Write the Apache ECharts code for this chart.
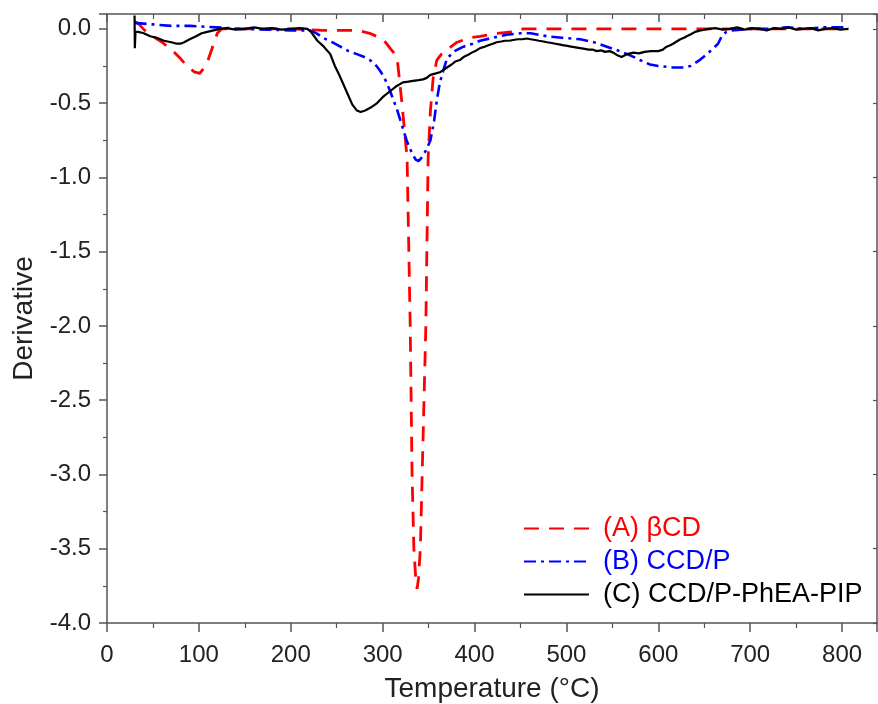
<!DOCTYPE html>
<html>
<head>
<meta charset="utf-8">
<script src="https://cdn.jsdelivr.net/npm/echarts@6/dist/echarts.min.js"></script>
<style>html,body{margin:0;padding:0;background:#fff}#c{width:878px;height:704px}</style>
</head>
<body>
<div id="c"></div>
<script>
// ---- Data ----
var seriesNames = ['(A) \u03B2CD', '(B) CCD/P', '(C) CCD/P-PhEA-PIP'];

var tempA = [30, 35, 41, 50, 60, 72, 80, 87, 95, 101, 106, 110, 115, 120, 125, 150, 200, 235, 260, 272, 286, 297, 303, 308, 312, 316, 321, 326.6, 330, 332, 334, 336, 337.5, 339, 341, 343, 347, 349.5, 352, 355, 359, 364, 370, 381, 395, 406, 424, 442, 453, 500, 550, 600, 650, 700, 750, 800];
var derivA = [0.05, 0.03, -0.01, -0.05, -0.09, -0.15, -0.20, -0.25, -0.29, -0.30, -0.26, -0.21, -0.12, -0.03, 0.0, 0.0, 0.0, -0.01, -0.01, -0.01, -0.03, -0.06, -0.09, -0.13, -0.16, -0.21, -0.50, -0.87, -2.0, -3.0, -3.5, -3.7, -3.77, -3.7, -3.5, -3.0, -2.0, -0.87, -0.55, -0.33, -0.21, -0.17, -0.14, -0.09, -0.06, -0.05, -0.03, -0.02, 0.0, 0.0, 0.0, 0.0, 0.0, 0.0, 0.0, 0.0];

var tempB = [30, 50, 70, 90, 120, 145, 200, 221, 228, 235, 245, 254, 263, 272, 280, 286, 292, 297, 301, 305, 310, 316, 321, 326, 332, 336, 339, 342, 347, 352, 356, 359, 362, 365, 370, 378, 388, 398, 406, 420, 435, 450, 461, 479, 495, 515, 530, 544, 558, 570, 580, 591, 600, 616, 628, 635, 645, 653, 660, 665, 669, 674, 680, 700, 720, 740, 760, 780, 807];
var derivB = [0.04, 0.03, 0.02, 0.02, 0.01, 0.0, -0.01, -0.01, -0.03, -0.06, -0.09, -0.12, -0.15, -0.17, -0.19, -0.21, -0.24, -0.28, -0.32, -0.37, -0.45, -0.55, -0.65, -0.75, -0.84, -0.88, -0.89, -0.87, -0.82, -0.75, -0.62, -0.48, -0.37, -0.30, -0.20, -0.15, -0.12, -0.10, -0.08, -0.06, -0.04, -0.03, -0.03, -0.05, -0.06, -0.07, -0.09, -0.12, -0.15, -0.18, -0.21, -0.24, -0.25, -0.26, -0.26, -0.25, -0.21, -0.17, -0.13, -0.10, -0.05, -0.02, -0.01, 0.0, 0.0, 0.01, 0.0, 0.01, 0.01];

var tempC = [30, 30.3, 31, 34, 40, 47, 54, 62, 70, 76, 80, 84, 90, 97, 103, 109, 116, 123, 130, 140, 150, 160, 170, 180, 190, 200, 210, 218, 222, 229, 236, 243, 248, 252, 257, 262, 267, 272, 276, 281, 287, 294, 300, 308, 314, 322, 328, 333, 339, 344, 348, 352, 358, 363, 370, 375, 379, 384, 388, 393, 397, 402, 406, 411, 415, 420, 424, 429, 433, 438, 442, 447, 452, 457, 461, 466, 470, 475, 479, 484, 488, 492, 496, 501, 505, 510, 515, 520, 524, 529, 533, 538, 542, 547, 551, 556, 560, 566, 573, 579, 585, 592, 600, 605, 609, 613, 616, 620, 624, 628, 631, 636, 640, 646, 655, 662, 670, 678, 686, 694, 702, 710, 718, 726, 734, 742, 750, 758, 766, 774, 782, 790, 798, 807];
var derivC = [0.09, -0.13, -0.02, -0.02, -0.03, -0.05, -0.06, -0.08, -0.09, -0.10, -0.10, -0.09, -0.07, -0.05, -0.03, -0.02, -0.01, 0.0, 0.005, -0.005, 0.0, 0.01, 0.0, 0.005, -0.005, 0.0, 0.005, 0.0, -0.02, -0.08, -0.12, -0.17, -0.25, -0.30, -0.37, -0.44, -0.51, -0.55, -0.56, -0.55, -0.53, -0.50, -0.46, -0.42, -0.39, -0.36, -0.355, -0.35, -0.345, -0.34, -0.33, -0.31, -0.30, -0.29, -0.26, -0.24, -0.22, -0.21, -0.19, -0.175, -0.16, -0.145, -0.13, -0.12, -0.11, -0.10, -0.09, -0.085, -0.08, -0.08, -0.075, -0.07, -0.07, -0.065, -0.07, -0.075, -0.08, -0.085, -0.09, -0.095, -0.10, -0.105, -0.11, -0.115, -0.12, -0.125, -0.13, -0.135, -0.14, -0.14, -0.15, -0.145, -0.155, -0.15, -0.16, -0.18, -0.19, -0.17, -0.16, -0.165, -0.155, -0.15, -0.15, -0.14, -0.12, -0.11, -0.10, -0.085, -0.07, -0.06, -0.05, -0.035, -0.02, -0.01, 0.0, 0.005, -0.005, 0.0, 0.01, -0.005, 0.005, 0.0, -0.01, 0.005, 0.0, 0.01, -0.005, 0.0, 0.005, -0.01, 0.0, 0.005, -0.005, 0.0];

var xTicks = [0, 100, 200, 300, 400, 500, 600, 700, 800];
var yTicks = [-4.0, -3.5, -3.0, -2.5, -2.0, -1.5, -1.0, -0.5, 0.0];

// ---- Build ----
function zip(a, b) { var r = []; for (var i = 0; i < a.length; i++) r.push([a[i], b[i]]); return r; }
var FONT = '"Liberation Sans", Arial, sans-serif';
var AX = '#555';
var colors = ['#ff0000', '#0000ff', '#000000'];

var chart = echarts.init(document.getElementById('c'), null, { renderer: 'canvas' });
function isTick(list, v) { for (var i = 0; i < list.length; i++) if (Math.abs(list[i] - v) < 1e-6) return true; return false; }

chart.setOption({
  animation: false,
  backgroundColor: '#fff',
  grid: { left: 107, right: 1, top: 14, bottom: 81, containLabel: false, outerBoundsMode: 'none' },
  legend: {
    orient: 'vertical', left: 523, top: 515, padding: 0,
    itemWidth: 65, itemHeight: 14, itemGap: 6,
    itemStyle: { opacity: 0 },
    textStyle: { fontSize: 27, fontFamily: FONT, padding: [0, 0, 0, 9] },
    data: [
      { name: seriesNames[0], textStyle: { color: colors[0] } },
      { name: seriesNames[1], textStyle: { color: colors[1] } },
      { name: seriesNames[2], textStyle: { color: colors[2] } }
    ]
  },
  xAxis: [{
    type: 'value', min: 0, max: 838, interval: 100, position: 'bottom',
    name: 'Temperature (\u00B0C)', nameLocation: 'middle', nameGap: 52,
    nameTextStyle: { fontSize: 28, color: '#222', fontFamily: FONT },
    axisLine: { show: true, onZero: false, lineStyle: { color: AX, width: 1.5 } },
    axisTick: { show: true, inside: false, length: 9, lineStyle: { color: AX, width: 1.5 } },
    minorTick: { show: true, splitNumber: 2, length: 5, lineStyle: { color: AX, width: 1.2 } },
    splitLine: { show: false }, minorSplitLine: { show: false },
    axisLabel: { fontSize: 24, color: '#222', fontFamily: FONT, margin: 20, showMaxLabel: false,
      formatter: function (v) { return isTick(xTicks, v) ? String(v) : ''; } }
  }, {
    type: 'value', min: 0, max: 838, interval: 100, position: 'top',
    axisLine: { show: true, onZero: false, lineStyle: { color: AX, width: 1.5 } },
    axisTick: { show: true, inside: true, length: 8, lineStyle: { color: AX, width: 1.5 } },
    minorTick: { show: true, splitNumber: 2, length: 5, lineStyle: { color: AX, width: 1.2 } },
    splitLine: { show: false }, axisLabel: { show: false }
  }],
  yAxis: [{
    type: 'value', min: -4.0, max: 0.1, interval: 0.5, position: 'left',
    name: 'Derivative', nameLocation: 'middle', nameGap: 66,
    nameTextStyle: { fontSize: 28, color: '#222', fontFamily: FONT },
    axisLine: { show: true, onZero: false, lineStyle: { color: AX, width: 1.5 } },
    axisTick: { show: true, inside: false, length: 8, lineStyle: { color: AX, width: 1.5 } },
    minorTick: { show: true, splitNumber: 2, length: 4, lineStyle: { color: AX, width: 1.2 } },
    splitLine: { show: false }, minorSplitLine: { show: false },
    axisLabel: { fontSize: 24, color: '#222', fontFamily: FONT, margin: 16, showMaxLabel: false,
      formatter: function (v) { return isTick(yTicks, v) ? v.toFixed(1) : ''; } }
  }, {
    type: 'value', min: -4.0, max: 0.1, interval: 0.5, position: 'right',
    axisLine: { show: true, onZero: false, lineStyle: { color: AX, width: 1.5 } },
    axisTick: { show: true, inside: true, length: 4, lineStyle: { color: AX, width: 1.2 } },
    splitLine: { show: false }, axisLabel: { show: false }
  }],
  series: [{
    name: seriesNames[0], type: 'line', data: zip(tempA, derivA), symbol: 'circle', showSymbol: false, smooth: false,
    lineStyle: { color: colors[0], width: 2.8, type: [15, 10] }, itemStyle: { color: colors[0] }, z: 3
  }, {
    name: seriesNames[1], type: 'line', data: zip(tempB, derivB), symbol: 'circle', showSymbol: false, smooth: false,
    lineStyle: { color: colors[1], width: 2.6, type: [12, 5, 3, 5] }, itemStyle: { color: colors[1] }, z: 4
  }, {
    name: seriesNames[2], type: 'line', data: zip(tempC, derivC), symbol: 'circle', showSymbol: false, smooth: false,
    lineStyle: { color: colors[2], width: 2.2 }, itemStyle: { color: colors[2] }, z: 5
  }]
});
</script>
</body>
</html>
